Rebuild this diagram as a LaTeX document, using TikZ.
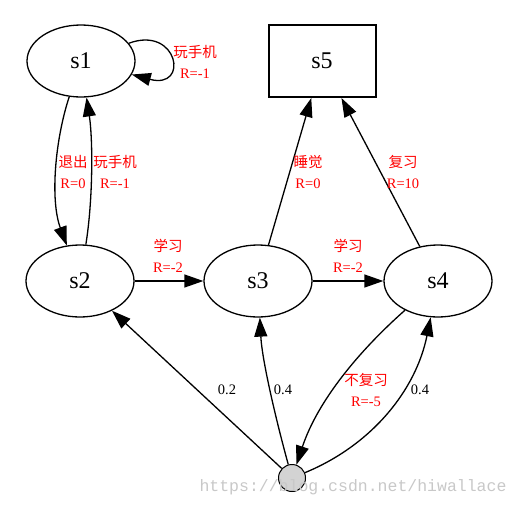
\documentclass[tikz,border=0pt]{standalone}
\usepackage{fontspec}
\setmainfont{Liberation Serif}
\newfontfamily\cjk{Noto Sans CJK SC}
\newfontfamily\wmfont{Liberation Mono}
\usetikzlibrary{shapes.geometric,arrows.meta}
\begin{document}
\begin{tikzpicture}[x=1pt,y=-1pt,
  state/.style={draw,line width=1.3pt,ellipse,minimum width=108pt,minimum height=72pt,inner sep=0pt,font=\fontsize{24}{24}\selectfont},
  term/.style={draw,line width=2pt,rectangle,minimum width=107pt,minimum height=72pt,inner sep=0pt,font=\fontsize{24}{24}\selectfont},
  chance/.style={draw,line width=1pt,circle,fill={rgb,255:red,211;green,211;blue,211},minimum size=27pt,inner sep=0pt},
  edge/.style={line width=1.3pt,-{Triangle[length=19pt,width=13pt]}},
  rlab/.style={text=red,font=\fontsize{14.5}{21}\selectfont,align=center,inner sep=0pt},
  plab/.style={text=black,font=\fontsize{14.5}{16}\selectfont,inner sep=0pt}]
\useasboundingbox (0,0) rectangle (519,506);
\node[state] (s1) at (81,61) {s1};
\node[term]  (s5) at (322,61) {s5};
\node[state] (s2) at (80,281) {s2};
\node[state] (s3) at (258,281) {s3};
\node[state] (s4) at (438,281) {s4};
\node[chance] (pt) at (292,478) {};
% edges
\draw[edge] (s1) .. controls (178,25) and (190,90) .. (s1);
\draw[edge] (s1) .. controls (55,140) and (50,200) .. (s2);
\draw[edge] (s2) .. controls (93,200) and (93,140) .. (s1);
\draw[edge] (s2) -- (s3);
\draw[edge] (s3) -- (s4);
\draw[edge] (s3) -- (s5);
\draw[edge] (s4) -- (s5);
\draw[edge] (s4) .. controls (360,350) and (318,400) .. (pt);
\draw[edge] (pt) -- (s2);
\draw[edge] (pt) .. controls (276,420) and (262,360) .. (s3);
\draw[edge] (pt) .. controls (372,445) and (416,390) .. (s4);
% labels
\node[rlab] (l1) at (195,62) {{\cjk 玩手机}\\R=-1};
\node[rlab] (l2) at (73,172) {{\cjk 退出}\\R=0};
\node[rlab] (l3) at (115,172) {{\cjk 玩手机}\\R=-1};
\node[rlab] (l4) at (168,256) {{\cjk 学习}\\R=-2};
\node[rlab] (l5) at (348,256) {{\cjk 学习}\\R=-2};
\node[rlab] (l6) at (308,172) {{\cjk 睡觉}\\R=0};
\node[rlab] (l7) at (403,172) {{\cjk 复习}\\R=10};
\node[rlab] (l8) at (366,390) {{\cjk 不复习}\\R=-5};
\node[plab] (p1) at (227,390) {0.2};
\node[plab] (p2) at (283,390) {0.4};
\node[plab] (p3) at (420,390) {0.4};
\node[text={rgb,255:red,200;green,200;blue,200},font=\wmfont\fontsize{16.5}{16.5}\selectfont,inner sep=0pt] (wm) at (353,487) {https://blog.csdn.net/hiwallace};
\end{tikzpicture}
\end{document}
